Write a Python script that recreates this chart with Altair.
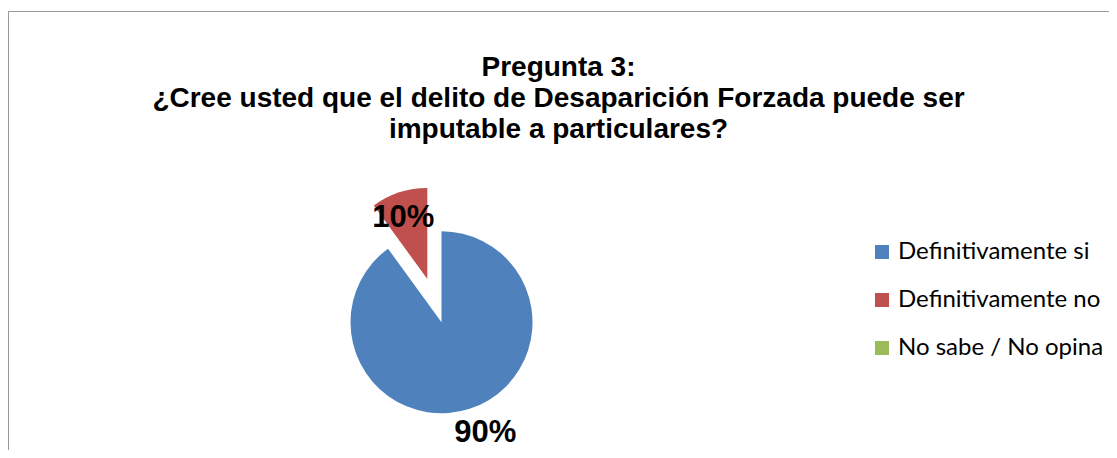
import altair as alt
import pandas as pd

categorias = ["Definitivamente si", "Definitivamente no", "No sabe / No opina"]
porcentajes = [90, 10, 0]
etiquetas = ["90%", "10%", "0%"]
colores = ["#4F81BD", "#C0504D", "#9BBB59"]
orden = [0, 1, 2]

titulo = [
    "Pregunta 3:",
    "¿Cree usted que el delito de Desaparición Forzada puede ser",
    "imputable a particulares?",
]

df = pd.DataFrame({
    "categoria": categorias,
    "valor": porcentajes,
    "etiqueta": etiquetas,
    "orden": orden,
})

W, H = 1101, 439
CX, CY = 433.5, 311.3
R = 91
EXP_DX, EXP_DY = -14.2, -43.3

base = alt.Chart(df).transform_window(
    fin="sum(valor)", sort=[alt.SortField("orden")], frame=[None, 0]
).transform_calculate(
    inicio="datum.fin - datum.valor",
    medio="datum.fin - datum.valor / 2",
)

theta_scale = alt.Scale(domain=[0, 100], range=[0, 6.283185307179586])
color_enc = alt.Color(
    "categoria:N",
    scale=alt.Scale(domain=categorias, range=colores),
    sort=categorias,
    legend=alt.Legend(
        title=None,
        orient="none",
        legendX=862,
        legendY=229,
        symbolType="square",
        symbolSize=196,
        symbolStrokeWidth=0,
        labelFont="Lato",
        labelFontSize=24,
        labelColor="#000000",
        labelOffset=4,
        rowPadding=24,
        padding=0,
        labelLimit=400,
    ),
)

def arco(cat, x, y):
    return base.transform_filter(alt.datum.categoria == cat).mark_arc(
        radius=R, stroke="#ffffff", strokeWidth=0
    ).encode(
        theta=alt.Theta("inicio:Q", scale=theta_scale, stack=None),
        theta2="fin:Q",
        color=color_enc,
        x=alt.value(x),
        y=alt.value(y),
    )

def texto(cat, r, dx, dy):
    return base.transform_filter(alt.datum.categoria == cat).mark_text(
        radius=r, dx=dx, dy=dy, font="Liberation Sans", fontSize=31,
        fontWeight="bold", color="#000000", baseline="middle", align="center"
    ).encode(
        theta=alt.Theta("medio:Q", scale=theta_scale, stack=None),
        text="etiqueta:N",
        x=alt.value(CX),
        y=alt.value(CY),
    )

borde = alt.Chart(alt.Data(values=[{"b": 1}])).mark_rect(
    fillOpacity=0, stroke="#9a9a9a", strokeWidth=1
).encode(
    x=alt.value(0.5), y=alt.value(0.5), x2=alt.value(3000), y2=alt.value(3000)
)

chart = alt.layer(
    borde,
    arco("Definitivamente si", CX, CY),
    arco("Definitivamente no", CX + EXP_DX, CY + EXP_DY),
    texto("Definitivamente no", 111, -4, 1),
    texto("Definitivamente si", 116, 8, 0),
).properties(
    width=W,
    height=H,
    title=alt.TitleParams(
        text=titulo,
        font="Liberation Sans",
        fontSize=28,
        fontWeight="bold",
        color="#000000",
        lineHeight=31,
        anchor="middle",
        frame="group",
        offset=-133,
    ),
    autosize=alt.AutoSizeParams(type="none"),
    padding={"left": 0, "top": 3, "right": 0, "bottom": 0},
).configure_view(stroke=None).configure(background="#ffffff")

chart.save("out.html", embed_options={"renderer": "svg", "actions": False})
